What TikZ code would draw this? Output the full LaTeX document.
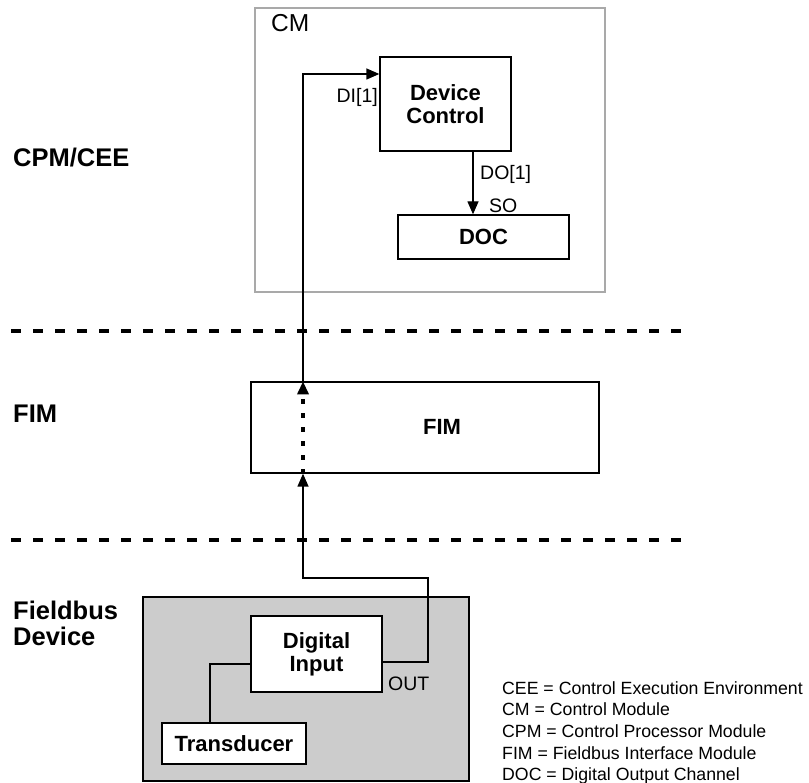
\documentclass[tikz,border=0pt]{standalone}
\usepackage{fontspec}
\setmainfont{Liberation Sans}
\usetikzlibrary{arrows.meta}

\definecolor{cmgray}{HTML}{A9A9A9}
\definecolor{fdgray}{HTML}{CCCCCC}

\newcommand{\fsz}[1]{\fontsize{#1}{#1}\selectfont}

\tikzset{
  box/.style={draw=black, line width=1.3pt, fill=white, inner sep=0pt, align=center,
              font=\fsz{22}\bfseries},
  lbl/.style={inner sep=0pt, font=\fsz{19.5}},
  tier/.style={inner sep=0pt, font=\fsz{25.5}\bfseries, anchor=base west},
  legend/.style={inner sep=0pt, font=\fsz{17.7}, anchor=base west},
  wire/.style={draw=black, line width=1.3pt},
  tip/.style={-{Triangle[length=13pt,width=11pt]}},
  sep/.style={line width=4.3pt, dash pattern=on 9.5pt off 12.5pt},
  dotwire/.style={line width=3.2pt, dash pattern=on 5pt off 9pt},
}

\begin{document}
\begin{tikzpicture}[x=1pt, y=-1pt]
  \useasboundingbox (0,0) rectangle (809,783);

  % control module frame on the controller
  \node[draw=cmgray, line width=1.3pt, minimum width=350pt, minimum height=284pt, inner sep=0pt]
    (cm) at (430,150) {};
  \node[lbl, font=\fsz{24.5}, anchor=base west] (cmlbl) at (271,32) {CM};

  \node[box, minimum width=131pt, minimum height=94pt] (dc) at (445.5,104) {Device\\[1pt]Control};
  \node[box, minimum width=171pt, minimum height=44pt] (doc) at (483.5,237) {DOC};

  % interface module
  \node[box, minimum width=348pt, minimum height=91pt] (fim) at (425,427.5) {};
  \node[inner sep=0pt, font=\fsz{22}\bfseries] (fimtxt) at (442,427) {FIM};

  % field device
  \node[draw=black, line width=1.3pt, fill=fdgray, minimum width=326pt, minimum height=184pt, inner sep=0pt]
    (fd) at (306,689) {};
  \node[box, minimum width=131pt, minimum height=76pt] (di) at (316.5,654) {Digital\\[1pt]Input};
  \node[box, minimum width=144pt, minimum height=41pt] (tr) at (234,743.5) {Transducer};

  % tier separators
  \draw[sep] (11,331) -- (692,331);
  \draw[sep] (11,540) -- (692,540);

  % tier names
  \node[tier] (tcpm) at (13,167) {CPM/CEE};
  \node[tier] (tfim) at (13,423) {FIM};
  \node[tier] (tfb1) at (13,619) {Fieldbus};
  \node[tier] (tfb2) at (13,645) {Device};

  % signal path
  \coordinate (up) at (428,578);
  \coordinate (bend) at (303,578);
  \draw[wire] ([yshift=-10pt]di.west) -| ([xshift=-24pt]tr.north);
  \draw[wire, tip] ([yshift=-8pt]di.east) -| (up) -- (bend) -- (bend |- fim.south);
  \draw[dotwire, tip] (bend |- fim.south) -- (bend |- fim.north);
  \draw[wire, tip] (bend |- fim.north) |- ([yshift=30pt]dc.west);
  \draw[wire, tip] ([xshift=27.5pt]dc.south) -- ([xshift=27.5pt]dc.south |- doc.north);

  % port labels
  \node[lbl, anchor=base east] (pdi) at (378,103) {DI[1]};
  \node[lbl, anchor=base west] (pdo) at (480,180) {DO[1]};
  \node[lbl, anchor=base west] (pso) at (489,213) {SO};
  \node[lbl, anchor=base west] (pout) at (388,690) {OUT};

  % abbreviations
  \node[legend] (l1) at (502,694) {CEE = Control Execution Environment};
  \node[legend] (l2) at (502,715.7) {CM = Control Module};
  \node[legend] (l3) at (502,737.4) {CPM = Control Processor Module};
  \node[legend] (l4) at (502,759.1) {FIM = Fieldbus Interface Module};
  \node[legend] (l5) at (502,780.8) {DOC = Digital Output Channel};
\end{tikzpicture}
\end{document}
